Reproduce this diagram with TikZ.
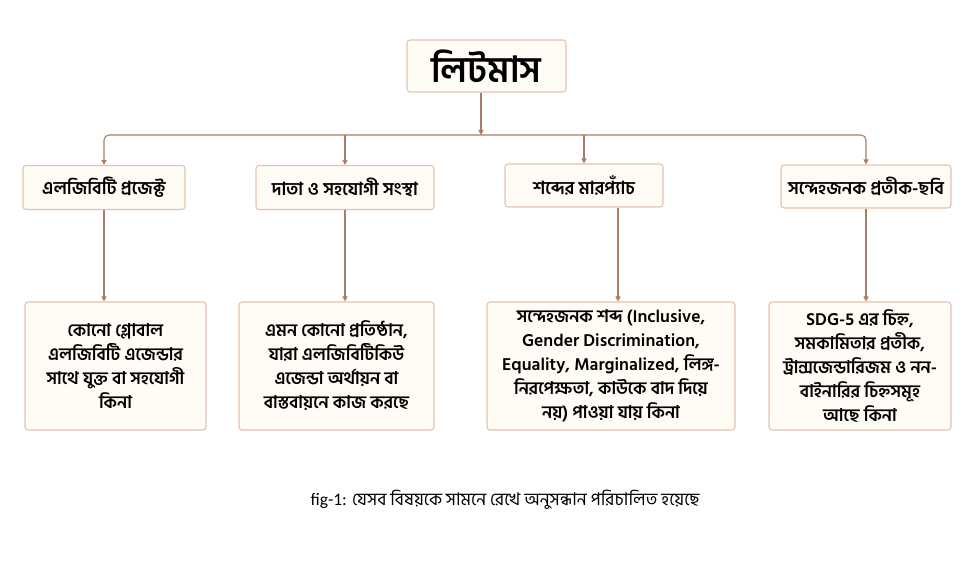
\documentclass[tikz,border=0pt]{standalone}
\usepackage{fontspec}
\setmainfont[Script=Bengali]{Hind Siliguri}
\newfontfamily\capfont{Carlito}
\usetikzlibrary{arrows.meta,calc,positioning}
\definecolor{linkbrown}{HTML}{A97C66}
\definecolor{edgepink}{HTML}{E6C2AE}
\definecolor{softcream}{HTML}{FFFCF5}

\begin{document}
\begin{tikzpicture}[x=1pt,y=-1pt,>={Triangle[length=5pt,width=5pt]},
    box/.style={rounded corners=3pt,draw=edgepink,line width=1.1pt,fill=softcream,
      align=center,inner sep=2pt},
    head/.style={box,font=\bfseries\fontsize{18}{20}\selectfont,minimum height=44pt},
    note/.style={box,font=\bfseries\fontsize{17.5}{24}\selectfont,minimum height=128pt},
    link/.style={->,draw=linkbrown,line width=1.1pt}]
    \useasboundingbox (0,0) rectangle (975,561);
    \node[box,font=\bfseries\fontsize{36}{40}\selectfont,
      minimum width=159pt,minimum height=52pt] (root) at (486.5,66) {লিটমাস};
    \coordinate (hub) at (481,135);
    \node[head,minimum width=162pt] (proj) at (104,187.5) {এলজিবিটি প্রজেক্ট};
    \node[head,minimum width=178pt] (donor) at (345,187.5) {দাতা ও সহযোগী সংস্থা};
    \node[head,minimum width=158pt,minimum height=43pt] (words) at (584,185.5) {শব্দের মারপ্যাঁচ};
    \node[head,minimum width=170pt,minimum height=43pt] (symbols) at (866,186.5) {সন্দেহজনক প্রতীক-ছবি};
    \node[note,minimum width=181pt] (projq) at (115.5,366) {
      কোনো গ্লোবাল\\এলজিবিটি এজেন্ডার\\সাথে যুক্ত বা সহযোগী\\কিনা};
    \node[note,minimum width=195pt] (donorq) at (336.5,366) {
      এমন কোনো প্রতিষ্ঠান,\\যারা এলজিবিটিকিউ\\এজেন্ডা অর্থায়ন বা\\বাস্তবায়নে কাজ করছে};
    \node[note,minimum width=248pt] (wordsq) at (611,366) {
      সন্দেহজনক শব্দ (Inclusive,\\Gender Discrimination,\\Equality, Marginalized, লিঙ্গ-\\নিরপেক্ষতা, কাউকে বাদ দিয়ে\\নয়) পাওয়া যায় কিনা};
    \node[note,minimum width=182pt] (symbolsq) at (860,366) {
      SDG-5 এর চিহ্ন,\\সমকামিতার প্রতীক,\\ট্রান্সজেন্ডারিজম ও নন-\\বাইনারির চিহ্নসমূহ\\আছে কিনা};
    \node[font=\fontsize{17.5}{20}\selectfont] (caption) at (505,500) {{\capfont fig-1:} যেসব বিষয়কে সামনে রেখে অনুসন্ধান পরিচালিত হয়েছে};
    % root to bar
    \draw[link] (root.south -| hub) -- (hub);
    \draw[link,rounded corners=5pt] (hub) -| (proj.north);
    \draw[link,rounded corners=5pt] (hub) -| (symbols.north);
    \draw[link] (donor.north |- hub) -- (donor.north);
    \draw[link] (words.north |- hub) -- (words.north);
    % heads to notes
    \draw[link] (proj.south) -- (proj.south |- projq.north);
    \draw[link] (donor.south) -- (donor.south |- donorq.north);
    \draw[link] ([xshift=34pt]words.south) -- ([xshift=34pt]words.south |- wordsq.north);
    \draw[link] (symbols.south) -- (symbols.south |- symbolsq.north);
  \end{tikzpicture}
\end{document}
